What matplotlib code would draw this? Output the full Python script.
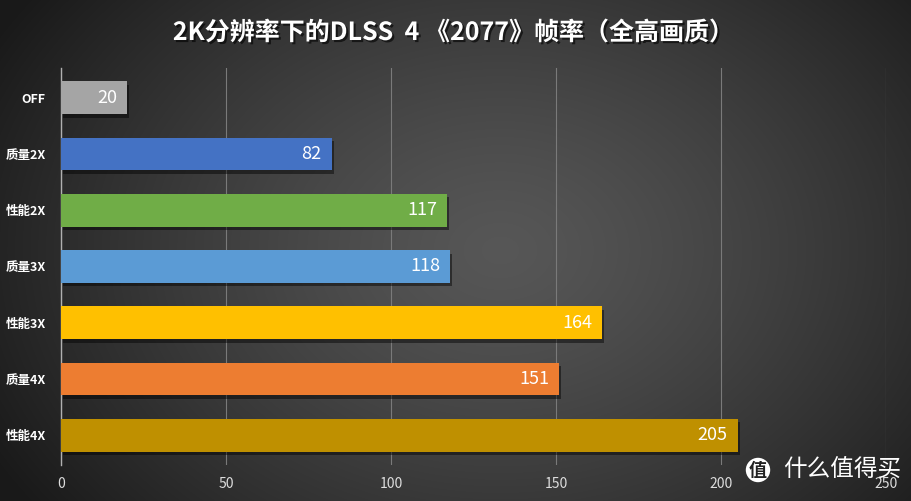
import numpy as np
import matplotlib.pyplot as plt
import matplotlib.patheffects as pe

plt.rcParams['font.family'] = ['Noto Sans CJK SC', 'DejaVu Sans']

categories = ['OFF', '质量2X', '性能2X', '质量3X', '性能3X', '质量4X', '性能4X']
values = [20, 82, 117, 118, 164, 151, 205]
colors = ['#A5A5A5', '#4472C4', '#70AD47', '#5B9BD5', '#FFC000', '#ED7D31', '#BF9000']
xticks = [0, 50, 100, 150, 200, 250]
title = '2K分辨率下的DLSS  4 《2077》帧率（全高画质）'

W, H = 912, 501
fig = plt.figure(figsize=(W / 100, H / 100), dpi=100)

# radial gradient background
bg = fig.add_axes([0, 0, 1, 1])
yy, xx = np.mgrid[0:H, 0:W]
cx, cy = 500, 250
r = np.sqrt(((xx - cx) / 560) ** 2 + ((yy - cy) / 420) ** 2)
v = np.clip(0.34 - 0.23 * r ** 1.3, 0.1, 0.4)
img = np.dstack([v, v, v])
bg.imshow(img, extent=[0, 1, 0, 1], aspect='auto', origin='upper')
bg.axis('off')

left, right = 61 / W, 886 / W
bottom, top = 1 - 465 / H, 1 - 68 / H
ax = fig.add_axes([left, bottom, right - left, top - bottom])
ax.set_facecolor('none')
ax.set_xlim(0, 250)
n = len(categories)
ax.set_ylim(n - 0.5 + 0.03, -0.5 - 0.03)

ax.set_xticks(xticks)
ax.grid(axis='x', color='#7a7a7a', linewidth=0.8)
ax.set_axisbelow(True)
for s in ['top', 'right', 'bottom']:
    ax.spines[s].set_visible(False)
ax.spines['left'].set_color('#b0b0b0')
ax.spines['left'].set_linewidth(1.0)
ax.tick_params(axis='x', length=0, colors='#dddddd', labelsize=10, pad=9)
ax.tick_params(axis='y', length=0, colors='#ffffff', labelsize=9, pad=11)
ax.set_yticks(range(n))
ax.set_yticklabels(categories, fontweight='bold')

bh = 0.58
shadow = [pe.SimplePatchShadow(offset=(1.5, -2.5), shadow_rgbFace='black', alpha=0.45), pe.Normal()]
bars = ax.barh(range(n), values, height=bh, color=colors, zorder=3)
for b in bars:
    b.set_path_effects(shadow)
for i, v_ in enumerate(values):
    ax.text(v_ - 3, i, str(v_), ha='right', va='center', color='white', fontsize=13, zorder=4)

fig.text(0.497, 1 - 33 / H, title, ha='center', va='center', color='white', fontsize=18,
         fontweight='bold',
         path_effects=[pe.withSimplePatchShadow(offset=(1.5, -1.5), shadow_rgbFace='black', alpha=0.6)])

# watermark
fig.text(758 / W, 1 - 470 / H, '值', ha='center', va='center', fontsize=13, fontweight='bold',
         color='#222222',
         bbox=dict(boxstyle='circle,pad=0.15', fc='white', ec='none'))
fig.text(783 / W, 1 - 470 / H, '什么值得买', ha='left', va='center', fontsize=17, color='white')

fig.savefig('out.png', dpi=100)
